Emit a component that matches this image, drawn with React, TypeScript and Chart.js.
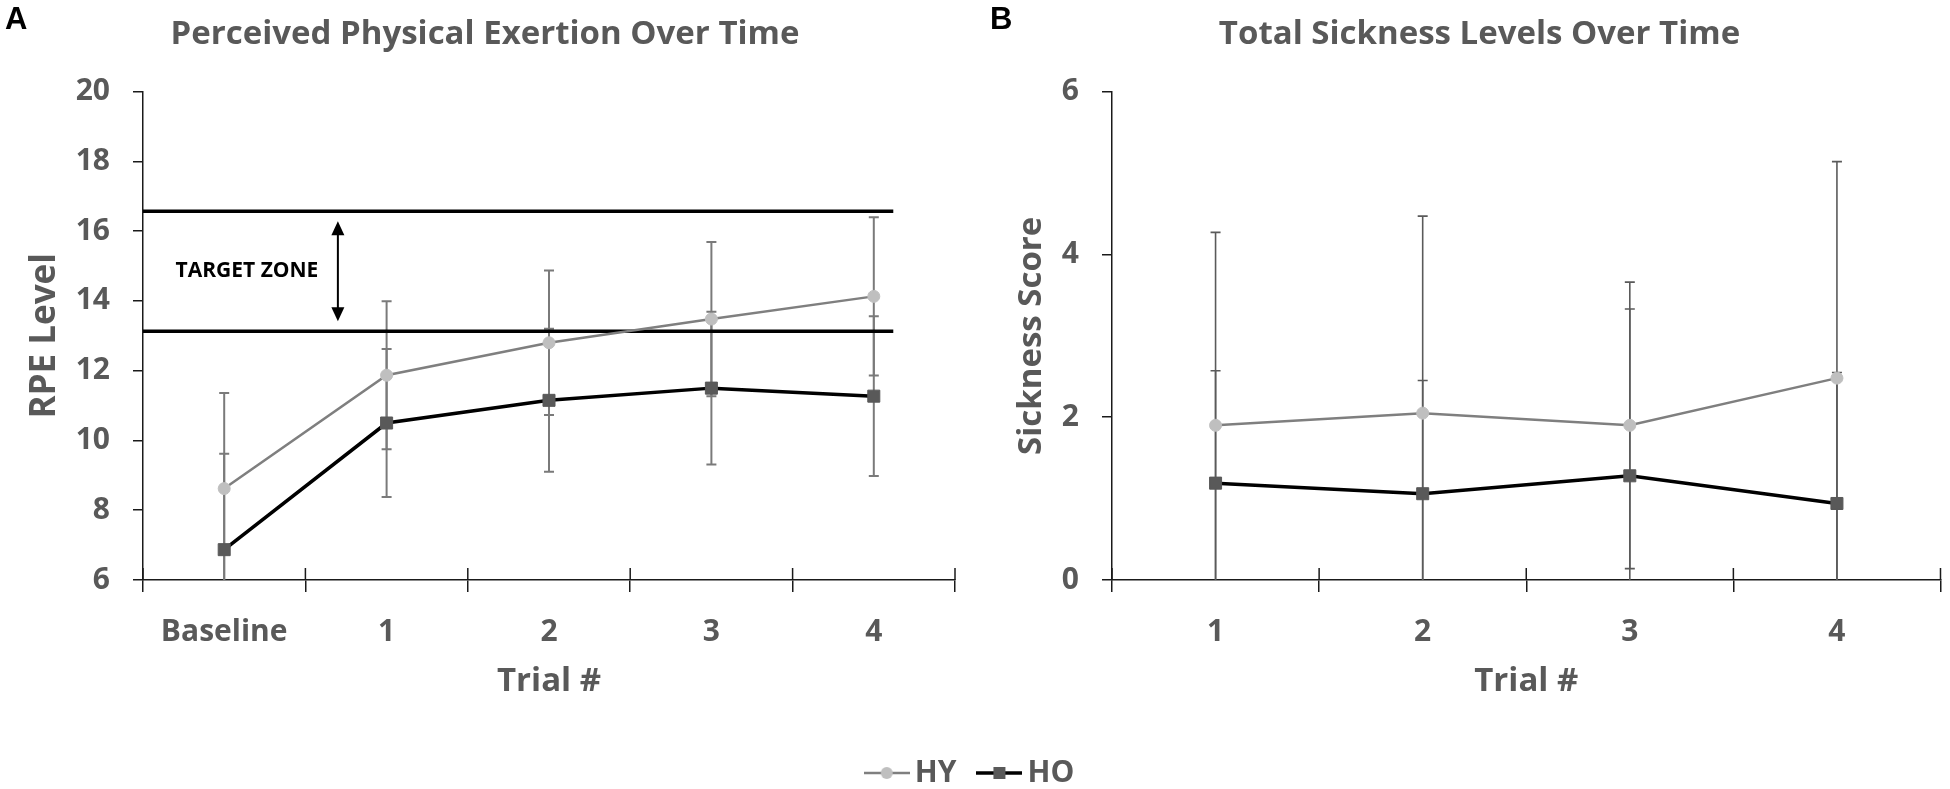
import React, { useEffect, useRef } from 'react';
import { Chart, registerables } from 'chart.js';

Chart.register(...registerables);

// Panel A - perceived exertion (RPE), mean and SD per trial
const rpeTrials = ['Baseline', '1', '2', '3', '4'];
const rpeHY = [8.62, 11.87, 12.8, 13.48, 14.13];
const rpeHO = [6.87, 10.5, 11.15, 11.5, 11.27];
const rpeSdHY = [2.74, 2.12, 2.07, 2.21, 2.27];
const rpeSdHO = [2.75, 2.12, 2.05, 2.19, 2.29];
const rpeRange = [6, 20];
const rpeStep = 2;
const targetZone = [13.13, 16.57];

// Panel B - total sickness score
const sickTrials = ['1', '2', '3', '4'];
const sickHY = [1.9, 2.05, 1.9, 2.48];
const sickHO = [1.19, 1.06, 1.28, 0.94];
const sickSdHY = [2.37, 2.42, 1.76, 2.66];
const sickSdHO = [1.38, 1.39, 2.05, 1.61];
const sickRange = [0, 6];
const sickStep = 2;

const groups = ['HY', 'HO'];

const FONT = "'Open Sans', sans-serif";
const TEXT = '#595959';
const AXIS = '#1a1a1a';
const HY_LINE = '#7f7f7f';
const HY_DOT = '#bfbfbf';
const HO_LINE = '#000000';
const HO_DOT = '#595959';

// where the target zone lines stop / arrow & label sit (category units)
const TARGET_LINE_END = 4.12;
const ARROW_AT = 0.7;
const LABEL_AT = 0.14;

const errorBars = {
  id: 'errorBars',
  beforeDatasetsDraw(chart: any, _args: any, opts: any) {
    const { ctx, chartArea, scales } = chart;
    const y = scales.y;
    ctx.save();
    ctx.beginPath();
    ctx.rect(chartArea.left, chartArea.top, chartArea.right - chartArea.left, chartArea.bottom - chartArea.top);
    ctx.clip();
    ctx.strokeStyle = opts.color;
    ctx.lineWidth = opts.width;
    chart.data.datasets.forEach((ds: any, di: number) => {
      if (!ds.sd) return;
      chart.getDatasetMeta(di).data.forEach((pt: any, i: number) => {
        const v = ds.data[i];
        const top = y.getPixelForValue(v + ds.sd[i]);
        const bot = y.getPixelForValue(v - ds.sd[i]);
        ctx.beginPath();
        ctx.moveTo(pt.x, top);
        ctx.lineTo(pt.x, bot);
        ctx.moveTo(pt.x - opts.cap, top);
        ctx.lineTo(pt.x + opts.cap, top);
        ctx.moveTo(pt.x - opts.cap, bot);
        ctx.lineTo(pt.x + opts.cap, bot);
        ctx.stroke();
      });
    });
    ctx.restore();
  },
};

// Excel-style x ticks cross the axis: draw the part above the axis
const innerTicks = {
  id: 'innerTicks',
  afterDraw(chart: any) {
    const { ctx, chartArea, scales } = chart;
    const x = scales.x;
    ctx.save();
    ctx.strokeStyle = AXIS;
    ctx.lineWidth = 1.5;
    for (let i = 0; i <= x.ticks.length; i++) {
      const px = x.getPixelForValue(i - 0.5);
      ctx.beginPath();
      ctx.moveTo(px, chartArea.bottom - 12);
      ctx.lineTo(px, chartArea.bottom);
      ctx.stroke();
    }
    ctx.restore();
  },
};

const panelLetter = {
  id: 'panelLetter',
  afterDraw(chart: any, _args: any, opts: any) {
    const { ctx } = chart;
    ctx.save();
    ctx.fillStyle = '#000';
    ctx.font = "bold 31px 'Liberation Sans', Arial, sans-serif";
    ctx.textAlign = 'left';
    ctx.textBaseline = 'top';
    ctx.fillText(opts.text, opts.x, opts.y);
    ctx.restore();
  },
};

const targetZonePlugin = {
  id: 'targetZone',
  beforeDatasetsDraw(chart: any) {
    const { ctx, chartArea, scales } = chart;
    const { x, y } = scales;
    const [lo, hi] = targetZone;
    const yLo = y.getPixelForValue(lo);
    const yHi = y.getPixelForValue(hi);
    const x1 = x.getPixelForValue(TARGET_LINE_END);
    ctx.save();
    ctx.strokeStyle = '#000';
    ctx.lineWidth = 3.5;
    [yLo, yHi].forEach((py) => {
      ctx.beginPath();
      ctx.moveTo(chartArea.left, py);
      ctx.lineTo(x1, py);
      ctx.stroke();
    });

    // double-headed arrow
    const ax = x.getPixelForValue(ARROW_AT);
    const top = yHi + 10;
    const bot = yLo - 10;
    ctx.lineWidth = 2;
    ctx.beginPath();
    ctx.moveTo(ax, top + 10);
    ctx.lineTo(ax, bot - 10);
    ctx.stroke();
    ctx.fillStyle = '#000';
    ctx.beginPath();
    ctx.moveTo(ax, top);
    ctx.lineTo(ax - 6.5, top + 14);
    ctx.lineTo(ax + 6.5, top + 14);
    ctx.closePath();
    ctx.fill();
    ctx.beginPath();
    ctx.moveTo(ax, bot);
    ctx.lineTo(ax - 6.5, bot - 14);
    ctx.lineTo(ax + 6.5, bot - 14);
    ctx.closePath();
    ctx.fill();

    ctx.font = `bold 21px ${FONT}`;
    ctx.textAlign = 'center';
    ctx.textBaseline = 'middle';
    ctx.fillText('TARGET ZONE', x.getPixelForValue(LABEL_AT), (yLo + yHi) / 2);
    ctx.restore();
  },
};

const series = (hy: number[], ho: number[], sdHY: number[], sdHO: number[]) => [
  {
    label: groups[0],
    data: hy,
    sd: sdHY,
    borderColor: HY_LINE,
    borderWidth: 2.5,
    pointStyle: 'circle',
    pointRadius: 6,
    pointHoverRadius: 6,
    pointBackgroundColor: HY_DOT,
    pointBorderColor: HY_DOT,
    pointBorderWidth: 1,
    tension: 0,
    fill: false,
  },
  {
    label: groups[1],
    data: ho,
    sd: sdHO,
    borderColor: HO_LINE,
    borderWidth: 3.5,
    pointStyle: 'rect',
    pointRadius: 8.5,
    pointHoverRadius: 8.5,
    pointBackgroundColor: HO_DOT,
    pointBorderColor: HO_DOT,
    pointBorderWidth: 1,
    tension: 0,
    fill: false,
  },
];

type PanelSpec = {
  letter: string;
  letterX: number;
  title: string;
  yTitle: string;
  yTitleSize: number;
  labels: string[];
  datasets: any[];
  range: number[];
  step: number;
  padLeft: number;
  yWidth: number;
  yTitlePad: number;
  padRight: number;
  errColor: string;
  errWidth: number;
  extra: any[];
};

const buildPanel = (spec: PanelSpec) => (canvas: HTMLCanvasElement) =>
  new Chart(canvas, {
    type: 'line',
    data: { labels: spec.labels, datasets: spec.datasets },
    plugins: [errorBars, ...spec.extra, innerTicks, panelLetter],
    options: {
      animation: false,
      responsive: false,
      layout: { padding: { left: spec.padLeft, right: spec.padRight, top: 0, bottom: 0 } },
      plugins: {
        legend: { display: false },
        tooltip: { enabled: false },
        title: {
          display: true,
          text: spec.title,
          color: TEXT,
          font: { family: FONT, size: 33, weight: 'bold' },
          padding: { top: 15, bottom: 37 },
        },
        errorBars: { color: spec.errColor, width: spec.errWidth, cap: 5 },
        panelLetter: { text: spec.letter, x: spec.letterX, y: 5 },
      } as any,
      scales: {
        x: {
          type: 'category',
          offset: true,
          grid: { offset: true, drawOnChartArea: false, tickLength: 12, color: AXIS, lineWidth: 1.5 },
          border: { display: true, color: AXIS, width: 1.5 },
          ticks: {
            color: TEXT,
            font: { family: FONT, size: 30, weight: 'bold' },
            padding: 22,
            autoSkip: false,
            maxRotation: 0,
          },
          title: {
            display: true,
            text: 'Trial #',
            color: TEXT,
            font: { family: FONT, size: 33, weight: 'bold' },
            padding: { top: 0, bottom: 88 },
          },
          afterFit: (s: any) => {
            s.height = 209;
          },
        },
        y: {
          min: spec.range[0],
          max: spec.range[1],
          grid: { drawOnChartArea: false, tickLength: 10, color: AXIS, lineWidth: 1.5 },
          border: { display: true, color: AXIS, width: 1.5 },
          ticks: {
            stepSize: spec.step,
            color: TEXT,
            font: { family: FONT, size: 30, weight: 'bold' },
            padding: 23,
          },
          title: {
            display: true,
            text: spec.yTitle,
            color: TEXT,
            font: { family: FONT, size: spec.yTitleSize, weight: 'bold' },
            padding: { top: spec.yTitlePad, bottom: 0 },
          },
          afterFit: (s: any) => {
            s.width = spec.yWidth;
          },
        },
      },
    },
  });

const buildRpe = buildPanel({
  letter: 'A',
  letterX: 5,
  title: 'Perceived Physical Exertion Over Time',
  yTitle: 'RPE Level',
  yTitleSize: 35,
  labels: rpeTrials,
  datasets: series(rpeHY, rpeHO, rpeSdHY, rpeSdHO),
  range: rpeRange,
  step: rpeStep,
  padLeft: 15,
  yWidth: 128,
  yTitlePad: 9,
  padRight: 20,
  errColor: '#7a7a7a',
  errWidth: 2,
  extra: [targetZonePlugin],
});

const buildSickness = buildPanel({
  letter: 'B',
  letterX: 10,
  title: 'Total Sickness Levels Over Time',
  yTitle: 'Sickness Score',
  yTitleSize: 33,
  labels: sickTrials,
  datasets: series(sickHY, sickHO, sickSdHY, sickSdHO),
  range: sickRange,
  step: sickStep,
  padLeft: 36,
  yWidth: 96,
  yTitlePad: -4,
  padRight: 7,
  errColor: '#5a5a5a',
  errWidth: 1.6,
  extra: [],
});

// line + marker swatch used as the legend's point style
const legendIcon = (g: number) => {
  const c = document.createElement('canvas');
  c.width = 46;
  c.height = 18;
  const cx = c.getContext('2d')!;
  cx.strokeStyle = g === 0 ? HY_LINE : HO_LINE;
  cx.lineWidth = g === 0 ? 2.5 : 3.5;
  cx.beginPath();
  cx.moveTo(0, 9);
  cx.lineTo(46, 9);
  cx.stroke();
  cx.fillStyle = g === 0 ? HY_DOT : HO_DOT;
  if (g === 0) {
    cx.beginPath();
    cx.arc(23, 9, 6, 0, Math.PI * 2);
    cx.fill();
  } else {
    cx.fillRect(17, 3, 12, 12);
  }
  return c;
};

const buildLegend = (canvas: HTMLCanvasElement) =>
  new Chart(canvas, {
    type: 'line',
    data: { labels: [], datasets: groups.map((g) => ({ label: g, data: [] })) },
    options: {
      animation: false,
      responsive: false,
      scales: { x: { display: false }, y: { display: false } },
      plugins: {
        tooltip: { enabled: false },
        legend: {
          position: 'top',
          labels: {
            usePointStyle: true,
            pointStyleWidth: 26,
            padding: 30,
            color: TEXT,
            font: { family: FONT, size: 30, weight: 'bold' },
            generateLabels: () =>
              groups.map((g, i) => ({
                text: g,
                pointStyle: legendIcon(i) as any,
                fillStyle: 'transparent',
                strokeStyle: 'transparent',
                lineWidth: 0,
                hidden: false,
                datasetIndex: i,
                fontColor: TEXT,
              })),
          },
        },
      },
    },
  });

const ChartCanvas: React.FC<{
  build: (c: HTMLCanvasElement) => Chart;
  left: number;
  top: number;
  width: number;
  height: number;
}> = ({ build, left, top, width, height }) => {
  const ref = useRef<HTMLCanvasElement>(null);

  useEffect(() => {
    if (!ref.current) return;
    const chart = build(ref.current);
    return () => chart.destroy();
  }, [build]);

  return (
    <canvas
      ref={ref}
      width={width}
      height={height}
      style={{ position: 'absolute', left, top, width, height }}
    />
  );
};

const App: React.FC = () => (
  <div
    style={{
      position: 'absolute',
      left: 0,
      top: 0,
      width: 1950,
      height: 789,
      overflow: 'hidden',
      background: '#fff',
    }}
  >
    <ChartCanvas build={buildRpe} left={0} top={0} width={975} height={789} />
    <ChartCanvas build={buildSickness} left={980} top={0} width={970} height={789} />
    {/* legend canvas is taller than the strip so Chart.js gives the legend box enough room; the wrapper clips it */}
    <ChartCanvas build={buildLegend} left={774} top={728} width={400} height={180} />
  </div>
);

export default App;
